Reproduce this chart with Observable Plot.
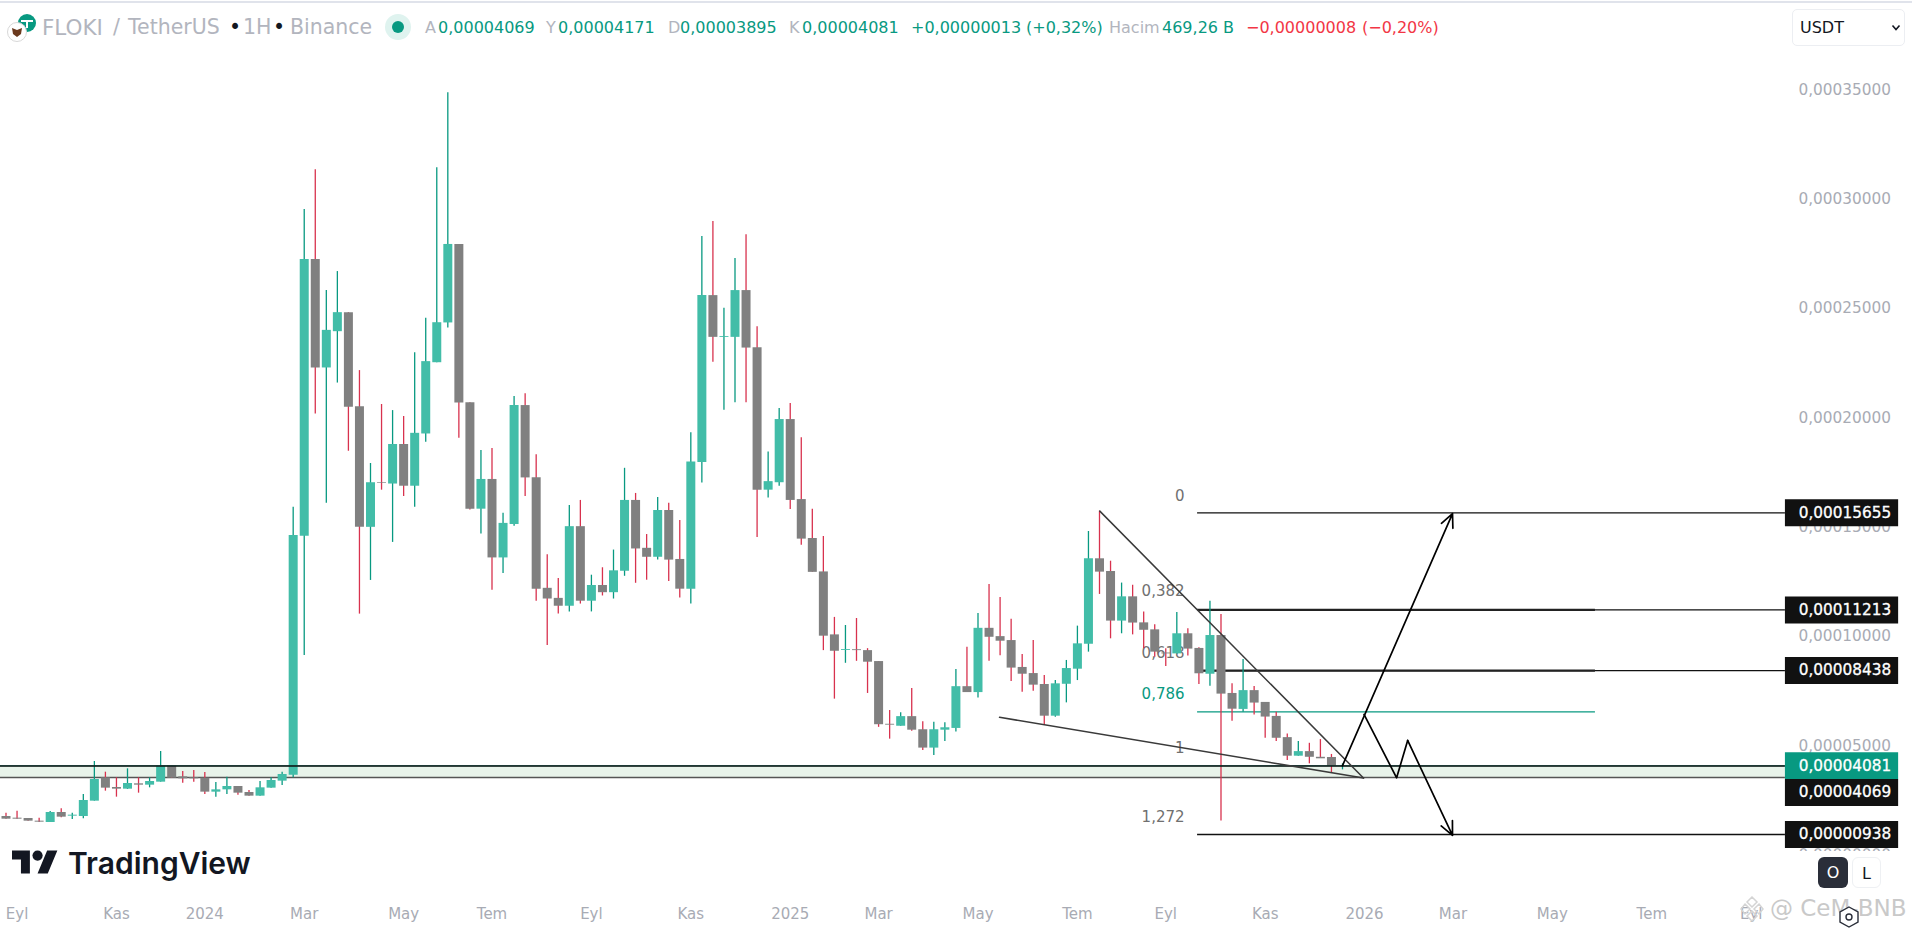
<!DOCTYPE html>
<html lang="tr">
<head>
<meta charset="utf-8">
<title>FLOKI / TetherUS</title>
<script src="https://cdn.jsdelivr.net/npm/d3@7"></script>
<script src="https://cdn.jsdelivr.net/npm/@observablehq/plot@0.6"></script>
<style>
html,body{margin:0;padding:0;background:#fff;overflow:hidden}
body{position:relative;width:1912px;height:933px;font-family:"DejaVu Sans",sans-serif}
#chart{position:absolute;left:0;top:0}
.t{position:absolute;white-space:nowrap;line-height:1;font-size:16px;top:20px}
.h{top:17px;font-size:20.5px}
.g{color:#b2b5be}.v{color:#089981}.r{color:#f23645}
</style>
</head>
<body>
<div id="chart"></div>
<div style="position:absolute;left:0;top:1px;width:1912px;height:2px;background:#e0e3eb"></div>
<svg style="position:absolute;left:6px;top:13px" width="32" height="30" viewBox="0 0 32 30">
  <circle cx="21" cy="10" r="9" fill="#089981"/>
  <path d="M15 7h12v2h-5v6h-2V9h-5z" fill="#fff"/>
  <circle cx="11" cy="19" r="9.5" fill="#fff" stroke="#d8d8d8"/>
  <path d="M6 15l5 2 5-2-1 6-4 3-4-3z" fill="#6b3a1e"/>
</svg>
<div class="t h g" style="left:42px;font-size:21.5px">FLOKI</div>
<div class="t h g" style="left:113px">/</div>
<div class="t h g" style="left:128px">TetherUS</div>
<div class="t h" style="left:229px;color:#131722">•</div>
<div class="t h g" style="left:243px">1H</div>
<div class="t h" style="left:273px;color:#131722">•</div>
<div class="t h g" style="left:290px">Binance</div>
<svg style="position:absolute;left:385px;top:14px" width="26" height="26"><circle cx="13" cy="13" r="13" fill="#dff3ef"/><circle cx="13" cy="13" r="6" fill="#089981"/></svg>
<div class="t g" style="left:425px">A</div><div class="t v" style="left:438px">0,00004069</div>
<div class="t g" style="left:546px">Y</div><div class="t v" style="left:558px">0,00004171</div>
<div class="t g" style="left:668px">D</div><div class="t v" style="left:680px">0,00003895</div>
<div class="t g" style="left:789px">K</div><div class="t v" style="left:802px">0,00004081</div>
<div class="t v" style="left:911px">+0,00000013</div><div class="t v" style="left:1026px">(+0,32%)</div>
<div class="t g" style="left:1109px">Hacim</div><div class="t v" style="left:1162px">469,26 B</div>
<div class="t r" style="left:1246px">−0,00000008</div><div class="t r" style="left:1362px">(−0,20%)</div>
<div style="position:absolute;left:1792px;top:9px;width:113px;height:37px;box-sizing:border-box;border:1px solid #eceef2;border-radius:5px;background:#fff"></div>
<div class="t" style="left:1800px;top:20px;font-size:16px;color:#131722">USDT</div>
<svg style="position:absolute;left:1891px;top:24px" width="10" height="8"><path d="M1.5 1.5l3.5 4 3.5-4" fill="none" stroke="#131722" stroke-width="1.6"/></svg>
<svg style="position:absolute;left:12px;top:850px" width="46" height="24" viewBox="0 4 36 18"><path d="M14 22H7V11H0V4h14v18zM28 22h-8l7.5-18h8L28 22z" fill="#131722"/><circle cx="20" cy="8" r="4" fill="#131722"/></svg>
<div style="position:absolute;left:68px;top:845px;font:600 30px Inter,sans-serif;line-height:36px;color:#131722">TradingView</div>
<div style="position:absolute;left:1790px;top:851px;width:122px;height:44px;background:#fff"></div>
<div class="t" style="left:1818px;top:857px;width:30px;height:31px;line-height:31px;background:#2a2e39;color:#fff;border-radius:6px;text-align:center;font-size:16px">O</div>
<div class="t" style="left:1852px;top:857px;width:29px;height:31px;line-height:31px;box-sizing:border-box;border:1px solid #eef0f3;color:#131722;border-radius:6px;text-align:center;font-size:16px;background:#fff">L</div>
<svg style="position:absolute;left:1740px;top:896px" width="24" height="26" viewBox="0 0 24 26"><path d="M12 1l5 5-5 5-5-5zM5 8l5 5-5 5-4-5zM19 8l4 5-4 5-5-5zM12 15l5 5-5 5-5-5z" fill="none" stroke="#d4d4d4" stroke-width="1.5"/></svg>
<div class="t" style="left:1770px;top:897px;font-size:23px;color:#c9c9c9">@ CeM-BNB</div>
<svg style="position:absolute;left:1838px;top:905px" width="22" height="24" viewBox="0 0 22 24"><path d="M11 2l9 5v10l-9 5-9-5V7z" fill="#fff" stroke="#2a2e39" stroke-width="1.4"/><circle cx="11" cy="12" r="3" fill="none" stroke="#2a2e39" stroke-width="1.4"/></svg>
<script>
// Weekly candles in units of 1e-5 USDT
const opens = [1.761,1.685,1.670,1.548,1.487,1.944,1.777,1.761,2.463,3.530,3.088,3.012,3.256,3.195,3.332,4.064,3.576,3.530,3.515,2.875,2.981,3.134,2.859,2.692,3.058,3.378,3.652,
14.58,27.24,22.28,23.94,24.81,20.51,14.99,17.03,16.97,18.78,16.87,19.26,22.52,24.34,27.93,20.69,15.82,17.18,13.59,15.12,20.56,17.26,12.2,11.74,11.38,15.02,11.61,12.33,12.0,12.98,16.22,
14.03,13.62,15.76,13.52,12.16,17.96,25.59,23.68,23.68,25.82,23.21,16.69,17.03,19.92,16.26,14.48,12.95,10.07,9.36,9.39,9.35,8.85,5.98,5.89,6.33,5.73,4.89,5.71,5.79,7.70,7.43,10.37,
9.99,9.81,8.58,8.30,7.80,6.35,7.81,8.50,9.64,13.55,12.97,10.70,11.81,10.62,10.30,9.24,9.20,10.12,9.45,8.27,10.04,7.39,6.66,7.52,6.98,6.34,5.37,4.52,4.73,4.47,4.46,4.069];
const highs = [1.914,2.005,1.670,1.685,1.990,2.112,1.914,2.768,4.277,3.789,3.530,3.942,3.530,3.530,4.735,4.064,3.820,3.866,3.774,3.317,3.561,3.134,2.951,3.362,3.530,3.789,15.91,
29.53,31.35,25.82,26.69,24.81,22.16,17.91,20.61,20.33,20.06,22.98,24.55,31.44,34.87,27.93,20.69,18.50,18.60,15.63,20.97,21.10,18.31,13.73,12.65,15.99,16.22,12.80,13.14,13.95,17.69,16.54,
14.66,16.35,16.09,15.30,19.32,28.29,28.98,25.01,27.29,28.37,24.17,18.44,20.43,20.66,19.09,15.82,14.57,10.87,10.50,10.82,9.44,8.85,6.61,6.51,7.62,6.10,6.07,6.05,8.49,9.50,11.05,12.38,
11.78,10.79,9.17,9.81,8.21,7.98,8.90,10.47,14.80,15.73,13.44,12.44,12.34,11.12,10.53,9.44,11.09,10.35,9.48,11.61,11.00,7.83,8.94,7.71,6.98,6.53,5.54,5.19,5.11,5.28,4.60,4.171];
const lows = [1.639,1.639,1.548,1.487,1.487,1.700,1.624,1.655,2.463,2.920,2.646,2.997,2.829,3.073,3.332,3.515,3.286,3.332,2.768,2.646,2.768,2.737,2.692,2.692,3.058,3.179,3.53,
9.13,20.17,16.09,21.59,18.47,11.02,12.56,16.69,14.30,16.40,15.91,18.88,22.52,24.11,19.07,15.78,14.68,12.11,12.88,15.04,16.40,11.61,9.58,11.02,11.12,11.48,11.12,11.85,11.71,12.75,12.43,
12.57,13.49,12.51,11.76,11.48,17.02,22.54,20.35,20.69,20.69,14.53,16.33,16.87,15.81,14.17,12.93,9.35,7.13,8.77,8.86,7.39,5.84,5.30,5.89,5.66,4.78,4.55,5.19,5.63,7.43,7.18,8.86,
9.12,7.94,7.45,7.49,5.92,6.30,6.96,7.98,9.28,11.92,9.89,10.12,10.07,9.43,9.05,8.62,9.20,9.10,7.80,7.72,1.55,6.12,6.53,6.41,5.34,5.19,4.32,4.52,4.17,4.43,3.74,3.895];
const closes = [1.639,1.639,1.548,1.502,1.944,1.731,1.822,2.493,3.454,3.058,3.012,3.271,3.195,3.362,4.064,3.515,3.484,3.484,2.875,2.981,3.134,2.829,2.692,3.073,3.408,3.683,14.62,
27.24,22.28,24.00,24.81,20.48,14.99,17.03,17.00,18.78,16.87,19.29,22.57,24.35,27.93,20.68,15.82,17.18,13.59,15.17,20.56,17.25,12.16,11.71,11.38,15.02,11.61,12.33,12.00,13.00,16.22,14.00,
13.62,15.76,13.49,12.16,17.98,25.59,23.68,23.72,25.82,23.19,16.69,17.08,19.92,16.22,14.45,12.93,10.01,9.32,9.40,9.35,8.82,5.96,5.94,6.33,5.71,4.89,5.73,5.82,7.70,7.43,10.37,9.96,
9.78,8.55,8.27,7.77,6.35,7.83,8.53,9.66,13.55,12.94,10.70,11.81,10.61,10.28,9.28,9.20,10.12,9.42,8.29,10.04,7.36,6.67,7.52,6.95,6.31,5.34,4.52,4.73,4.47,4.40,4.05,4.081];

// Axis ticks
const priceTicks = [0,5,10,15,20,25,30,35];
const timeTickDates = ["2023-09-04","2023-11-06","2024-01-01","2024-03-04","2024-05-06","2024-07-01","2024-09-02","2024-11-04","2025-01-06","2025-03-03","2025-05-05","2025-07-07","2025-09-01","2025-11-03","2026-01-05","2026-03-02","2026-05-04","2026-07-06","2026-09-07"];
const timeTickLabels = ["Eyl","Kas","2024","Mar","May","Tem","Eyl","Kas","2025","Mar","May","Tem","Eyl","Kas","2026","Mar","May","Tem","Eyl"];

// Fibonacci levels
const fibNames = ["0","0,382","0,618","0,786","1","1,272"];
const fibPrices = [15.655,11.213,8.438,6.55,3.545,0.938];
const fibLabelPrices = [16.42,12.05,9.25,7.35,4.9,1.75];
const fibLabelBar = 106.7, fibStartBar = 107.88, fibMidBar = 143.9, fibEndBar = 161.1;

// Price tags on the right
const tagTexts = ["0,00015655","0,00011213","0,00008438","0,00004081","0,00004069","0,00000938"];
const tagPrices = [15.655,11.213,8.438,4.081,2.86,0.938];
const tagColors = ["#111","#111","#111","#089981","#111","#111"];
const tagStartBar = 161.1, tagEndBar = 171.35, tagTextBar = 162.3;

// Support band
const bandTop = 4.069, bandBottom = 3.545, lastPrice = 4.081;

// Drawn lines: [bar, price]
const wedgeTop = [[99.03,15.73],[122.9,3.52]];
const wedgeBottom = [[89.95,6.30],[122.9,3.52]];
const upArrow = [[121.0,4.09],[130.96,15.62]];
const zigzag = [[122.95,6.43],[125.9,3.53],[126.9,5.24]];
const downArrow = [[126.9,5.24],[130.96,0.90]];

const E = 1e-5;
const DAY = 86400000;
const t0 = Date.UTC(2023,7,28);
const bar = i => new Date(t0 + i*7*DAY);
const firstBar = -0.498, lastBar = 161.56;
const candles = opens.map((o,i)=>({date:bar(i),o:o*E,h:highs[i]*E,l:lows[i]*E,c:closes[i]*E,up:closes[i]>=o}));
const fmt = v => d3.format(".8f")(v).replace(".",",");
const pts = a => a.map(([b,p])=>({d:bar(b),p:p*E}));
const fibs = fibNames.map((n,i)=>({n,p:fibPrices[i]*E,lp:fibLabelPrices[i]*E}));
const tags = tagTexts.map((t,i)=>({t,p:tagPrices[i]*E,c:tagColors[i]}));
const tickDates = timeTickDates.map(d=>new Date(d+"T00:00:00Z"));
const solidFibs = fibs.filter(f=>f.n!=="0,786"&&f.n!=="1");
const midFibs = fibs.filter(f=>f.n==="0,382"||f.n==="0,618");

const chart = Plot.plot({
  width:1912,height:933,
  marginLeft:0,marginRight:122,marginTop:0,marginBottom:28,
  style:{fontFamily:'"DejaVu Sans",sans-serif',background:"#fff",overflow:"visible"},
  x:{type:"utc",domain:[bar(firstBar),bar(lastBar)]},
  y:{domain:[-2.31*E,39.09*E]},
  marks:[
    Plot.rect([{}],{x1:()=>bar(firstBar),x2:()=>bar(fibEndBar),y1:()=>bandBottom*E,y2:()=>bandTop*E,fill:"#e8f3ea"}),
    Plot.axisY({anchor:"right",ticks:priceTicks.map(v=>v*E),tickSize:0,tickPadding:8,tickFormat:fmt,label:null,fontSize:15.3,color:"#a8abb4",textAnchor:"start"}),
    Plot.axisX({ticks:tickDates,tickSize:0,tickPadding:3,tickFormat:(d,i)=>timeTickLabels[i],label:null,fontSize:15,color:"#a8abb4"}),
    Plot.text(fibs,{x:()=>bar(fibLabelBar),y:"lp",text:"n",fill:d=>d.n==="0,786"?"#089981":"#707070",fontSize:15,textAnchor:"end"}),
    Plot.ruleY(solidFibs,{y:"p",x1:()=>bar(fibStartBar),x2:()=>bar(fibEndBar),stroke:"#111",strokeWidth:1.3}),
    Plot.ruleY(midFibs,{y:"p",x1:()=>bar(fibStartBar),x2:()=>bar(fibMidBar),stroke:"#222",strokeWidth:2.2}),
    Plot.ruleY([fibs[3]],{y:"p",x1:()=>bar(fibStartBar),x2:()=>bar(fibMidBar),stroke:"#089981",strokeWidth:1.3}),
    Plot.ruleY([bandBottom*E],{x1:()=>bar(firstBar),x2:()=>bar(fibEndBar),stroke:"#555",strokeWidth:1.3}),
    Plot.ruleX(candles,{x:"date",y1:"l",y2:"h",stroke:d=>d.up?"#089981":"#d8324e",strokeWidth:1.3}),
    Plot.ruleX(candles,{x:"date",y1:"o",y2:"c",stroke:d=>d.up?"#42bda8":"#808080",strokeWidth:9}),
    Plot.ruleY([lastPrice*E],{x1:()=>bar(firstBar),x2:()=>bar(fibEndBar),stroke:"#089981",strokeWidth:1}),
    Plot.ruleY([bandTop*E],{x1:()=>bar(firstBar),x2:()=>bar(fibEndBar),stroke:"#111",strokeWidth:1.5}),
    Plot.line(pts(wedgeTop),{x:"d",y:"p",stroke:"#3a3a3a",strokeWidth:1.5}),
    Plot.line(pts(wedgeBottom),{x:"d",y:"p",stroke:"#3a3a3a",strokeWidth:1.6}),
    Plot.line(pts(zigzag),{x:"d",y:"p",stroke:"#000",strokeWidth:1.7}),
    Plot.arrow([{a:pts(upArrow)[0],b:pts(upArrow)[1]},{a:pts(downArrow)[0],b:pts(downArrow)[1]}],{
      x1:d=>d.a.d,y1:d=>d.a.p,x2:d=>d.b.d,y2:d=>d.b.p,stroke:"#000",strokeWidth:1.7,headLength:13,headAngle:50}),
    Plot.ruleY(tags,{y:"p",x1:()=>bar(tagStartBar),x2:()=>bar(tagEndBar),stroke:"c",strokeWidth:27}),
    Plot.text(tags,{x:()=>bar(tagTextBar),y:"p",text:"t",fill:"#fff",stroke:"#fff",strokeWidth:0.3,textAnchor:"start",fontSize:15.3})
  ]
});
document.getElementById("chart").appendChild(chart);
</script>
</body>
</html>
